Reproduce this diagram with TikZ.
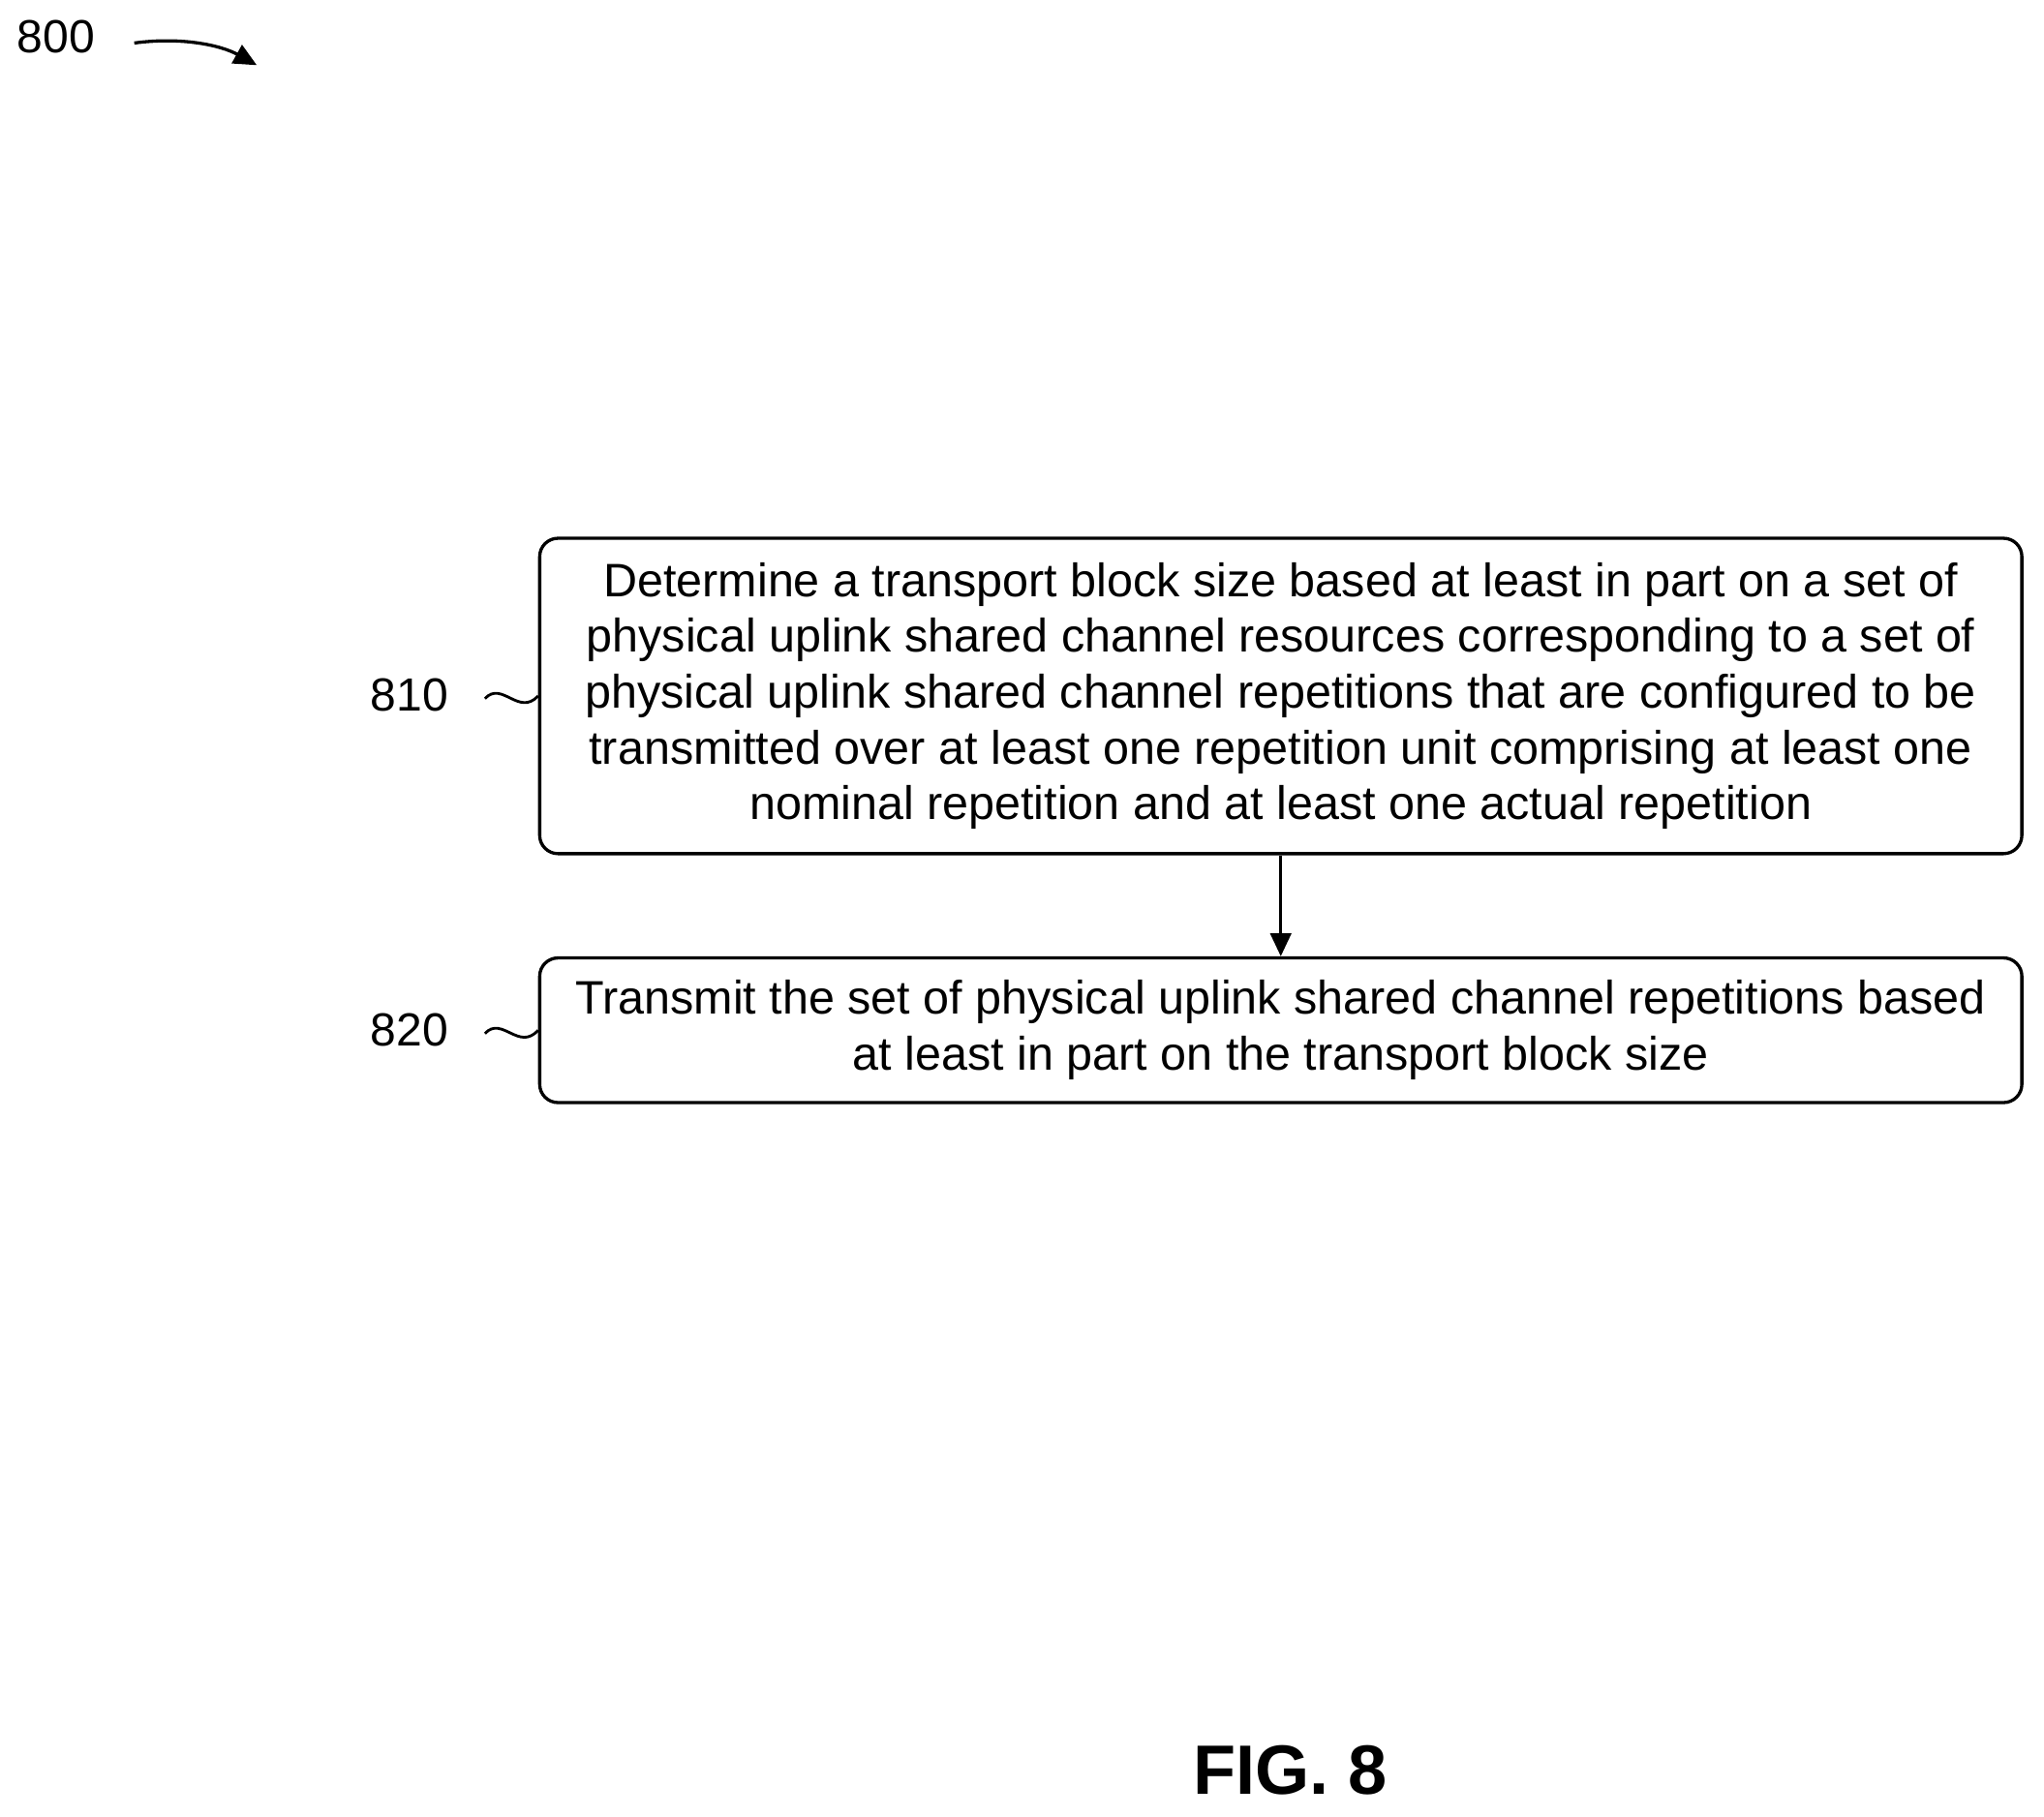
\documentclass[tikz,border=0pt]{standalone}
\usepackage{fontspec}
\setmainfont{Liberation Sans}
\usetikzlibrary{arrows.meta}
\begin{document}
\begin{tikzpicture}[x=0.02cm,y=-0.02cm,
  box/.style={draw,line width=1.4pt,rounded corners=8pt,align=center,font=\fontsize{20.5}{24.4}\selectfont,inner sep=0pt},
  lab/.style={font=\fontsize{20.3}{22}\selectfont},
  squig/.style={line width=1.2pt}]
\useasboundingbox (0,0) rectangle (1568,1394);
\node[box,minimum width=1137*0.02cm,minimum height=242*0.02cm] (b1) at (982.5,534)
{Determine a transport block size based at least in part on a set of\\
physical uplink shared channel resources corresponding to a set of\\
physical uplink shared channel repetitions that are configured to be\\
transmitted over at least one repetition unit comprising at least one\\
nominal repetition and at least one actual repetition};
\node[box,minimum width=1137*0.02cm,minimum height=111*0.02cm] (b2) at (982.5,790.5)
{Transmit the set of physical uplink shared channel repetitions based\\
at least in part on the transport block size};
\draw[line width=1.4pt,-{Triangle[length=10pt,width=9pt]}] (b1.south) -- (b2.north);
\node[lab] (l1) at (314,533) {810};
\node[lab] (l2) at (314,790) {820};
\node[lab] (l0) at (43,28) {800};
\coordinate (t1) at (372,536);
\draw[squig] (t1) .. controls (385,522) and (398,550) .. (b1.west);
\coordinate (t2) at (372,793);
\draw[squig] (t2) .. controls (385,779) and (398,807) .. (b2.west);
\coordinate (a0) at (103,33);
\coordinate (a1) at (197,50);
\draw[line width=1.4pt,-{Triangle[length=10pt,width=9pt]}] (a0) .. controls (140,28) and (170,35) .. (a1);
\node[font=\fontsize{30.5}{32}\selectfont\bfseries] (fig) at (990,1358) {FIG. 8};
\end{tikzpicture}
\end{document}
